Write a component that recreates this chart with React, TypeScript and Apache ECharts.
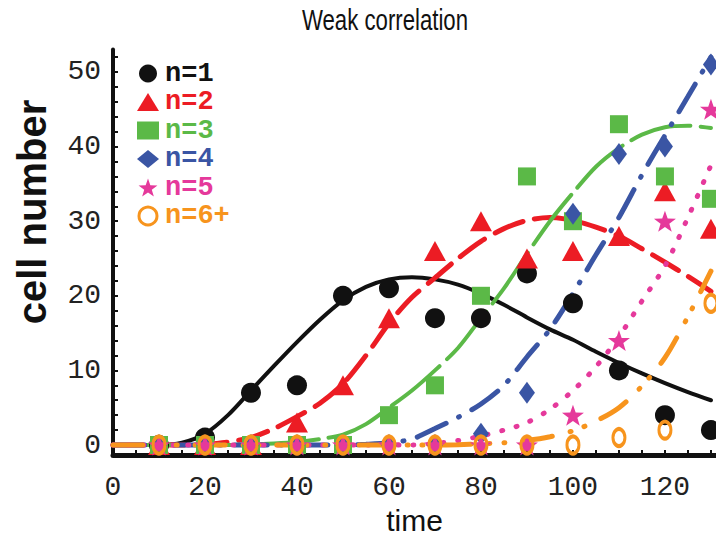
import React, { useEffect, useRef } from "react";
import * as echarts from "echarts";

// ---- data ----
const xPoints = [10, 20, 30, 40, 50, 60, 70, 80, 90, 100, 110, 120, 130];
const n1 = [0, 1, 7, 8, 20, 21, 17, 17, 23, 19, 10, 4, 2];
const n2 = [0, 0, 0, 3, 8, 17, 26, 30, 25, 26, 28, 34, 29];
const n3 = [0, 0, 0, 0, 0, 4, 8, 20, 36, 30, 43, 36, 33];
const n4 = [0, 0, 0, 0, 0, 0, 0, 1.5, 7, 31, 39, 40, 51];
const n5 = [0, 0, 0, 0, 0, 0, 0, 0, 0, 4, 14, 30, 45];
const n6 = [0, 0, 0, 0, 0, 0, 0, 0, 0, 0, 1, 2, 19];

const xFit = [0, 5, 10, 15, 20, 25, 30, 35, 40, 45, 50, 55, 60, 65, 70, 75, 80, 85, 90, 95, 100, 105, 110, 115, 120, 125, 130];
const fit1 = [0, 0, 0, 0.3, 1.5, 4, 7.3, 10.6, 13.8, 16.8, 19.4, 21.2, 22.2, 22.5, 22.2, 21.5, 20.3, 18.8, 17.1, 15.5, 14.1, 12.5, 11, 9.6, 8.3, 7.1, 6];
const fit2 = [0, 0, 0, 0, 0.1, 0.4, 1, 2.2, 3.8, 5.6, 8.2, 12, 16.3, 19.8, 22.4, 25, 27.3, 29, 30.1, 30.5, 30.1, 29.2, 28, 26.3, 24.5, 22.6, 20.6];
const fit3 = [0, 0, 0, 0, 0, 0, 0.1, 0.2, 0.4, 0.8, 1.4, 2.8, 5, 7.3, 10, 13, 17, 21, 25.6, 30, 33.8, 37.3, 39.8, 41.6, 42.6, 42.8, 42.5];
const fit4 = [0, 0, 0, 0, 0, 0, 0, 0, 0, 0, 0, 0.1, 0.3, 0.8, 2.2, 3.7, 5.5, 8, 11.8, 15.5, 20.3, 25.5, 30.5, 36.2, 41.5, 46.7, 52];
const fit5 = [0, 0, 0, 0, 0, 0, 0, 0, 0, 0, 0, 0, 0, 0, 0.2, 0.6, 1.2, 2, 3, 4.8, 7.3, 10.5, 14.5, 19.3, 24, 30.5, 37.5];
const fit6 = [0, 0, 0, 0, 0, 0, 0, 0, 0, 0, 0, 0, 0, 0, 0, 0.05, 0.15, 0.3, 0.6, 1.1, 1.9, 3.2, 5, 7.9, 11.7, 17.2, 23.3];

const seriesNames = ["n=1", "n=2", "n=3", "n=4", "n=5", "n=6+"];
const xTickLabels = [0, 20, 40, 60, 80, 100, 120];
const xTickMarks = [0, 5, 10, 15, 20, 25, 30, 35, 40, 45, 50, 55, 60, 65, 70, 75, 80, 85, 90, 95, 100, 105, 110, 115, 120, 125, 130];
const yTickLabels = [0, 10, 20, 30, 40, 50];
const yTickMarks = [0, 2, 4, 6, 8, 10, 12, 14, 16, 18, 20, 22, 24, 26, 28, 30, 32, 34, 36, 38, 40, 42, 44, 46, 48, 50, 52];

const COLORS = ["#111111", "#EC1C24", "#5BB947", "#3A55A4", "#E5399B", "#F7941D"];
const STAR =
  "path://M100,0 L123.5,67.6 L195.1,69.1 L138,112.4 L158.8,180.9 L100,140 L41.2,180.9 L62,112.4 L4.9,69.1 L76.5,67.6 Z";

export default function App() {
  const ref = useRef<HTMLDivElement>(null);

  useEffect(() => {
    if (!ref.current) return;
    const chart = echarts.init(ref.current, undefined, { renderer: "svg" });

    const pts = [n1, n2, n3, n4, n5, n6];
    const fits = [fit1, fit2, fit3, fit4, fit5, fit6];
    const fitStyles: any[] = [
      { width: 4, type: "solid" },
      { width: 5, type: [30, 12] },
      { width: 4, type: [62, 10] },
      { width: 5, type: [32, 14, 1, 14] },
      { width: 5, type: [1, 14] },
      { width: 5, type: [30, 18, 1, 14, 1, 18] },
    ];
    const symbols: any[] = [
      { symbol: "circle", size: 20 },
      { symbol: "triangle", size: [22, 20] },
      { symbol: "rect", size: [18, 18] },
      { symbol: "diamond", size: [16, 22] },
      { symbol: STAR, size: [22, 21] },
      { symbol: "circle", size: [12, 17] },
    ];

    const lineSeries = fits.map((f, i) => ({
      name: "fit " + seriesNames[i],
      type: "line",
      data: xFit.map((x, k) => [x, f[k]]),
      showSymbol: false,
      symbol: "none",
      smooth: 0.3,
      z: 2,
      lineStyle: { color: COLORS[i], width: fitStyles[i].width, type: fitStyles[i].type, cap: "round" },
    }));

    const scatterSeries = pts.map((p, i) => ({
      name: seriesNames[i],
      type: "scatter",
      data: xPoints.map((x, k) => [x, p[k]]),
      symbol: symbols[i].symbol,
      symbolSize: symbols[i].size,
      z: 3 + i,
      itemStyle:
        i === 5
          ? { color: "rgba(0,0,0,0)", borderColor: COLORS[i], borderWidth: 3.5, opacity: 1 }
          : { color: COLORS[i], opacity: 1 },
    }));

    chart.setOption({
      animation: false,
      backgroundColor: "#ffffff",
      legend: {
        orient: "vertical",
        left: 132,
        top: 55,
        itemWidth: 22,
        itemHeight: 18,
        itemGap: 1.5,
        selectedMode: false,
        data: seriesNames.map((name, i) => ({
          name,
          textStyle: { color: COLORS[i] },
          itemStyle: i === 5 ? { borderWidth: 3 } : undefined,
        })),
        textStyle: {
          fontFamily: "Liberation Mono, monospace",
          fontWeight: "bold",
          fontSize: 27,
          padding: [0, 0, 0, 1],
        },
      },
      grid: { left: 113, right: 0, top: 49.6, bottom: 84, containLabel: false, outerBoundsMode: "none" },
      xAxis: {
        type: "value",
        min: 0,
        max: 131.1,
        name: "time",
        nameLocation: "middle",
        nameGap: 46,
        nameTextStyle: { fontFamily: "Liberation Sans, sans-serif", fontSize: 30, color: "#111" },
        axisLine: { show: true, onZero: false, lineStyle: { color: "#111", width: 5 } },
        axisTick: { show: true, inside: true, length: 5, customValues: xTickMarks, lineStyle: { color: "#111", width: 2 } },
        axisLabel: { customValues: xTickLabels, fontFamily: "Liberation Mono, monospace", fontSize: 28, color: "#222", margin: 18 },
        splitLine: { show: false },
      },
      yAxis: {
        type: "value",
        min: -1.34,
        max: 53,
        axisLine: { show: true, onZero: false, lineStyle: { color: "#111", width: 4 } },
        axisTick: { show: true, inside: true, length: 5, customValues: yTickMarks, lineStyle: { color: "#111", width: 2 } },
        axisLabel: { customValues: yTickLabels, fontFamily: "Liberation Mono, monospace", fontSize: 28, color: "#222", margin: 12 },
        splitLine: { show: false },
      },
      graphic: [
        {
          type: "text",
          x: 385,
          y: 20,
          scaleX: 0.74,
          style: {
            text: "Weak correlation",
            fontFamily: "Liberation Sans, sans-serif",
            fontSize: 30,
            fill: "#111",
            align: "center",
            verticalAlign: "middle",
          },
        },
        {
          type: "text",
          x: 32,
          y: 212,
          rotation: Math.PI / 2,
          style: {
            text: "cell number",
            fontFamily: "Liberation Sans, sans-serif",
            fontWeight: "bold",
            fontSize: 40,
            fill: "#111",
            align: "center",
            verticalAlign: "middle",
          },
        },
      ],
      series: [...lineSeries, ...scatterSeries],
    });

    return () => chart.dispose();
  }, []);

  return (
    <div
      ref={ref}
      style={{ position: "fixed", left: 0, top: 0, width: 716, height: 539, background: "#fff" }}
    />
  );
}
